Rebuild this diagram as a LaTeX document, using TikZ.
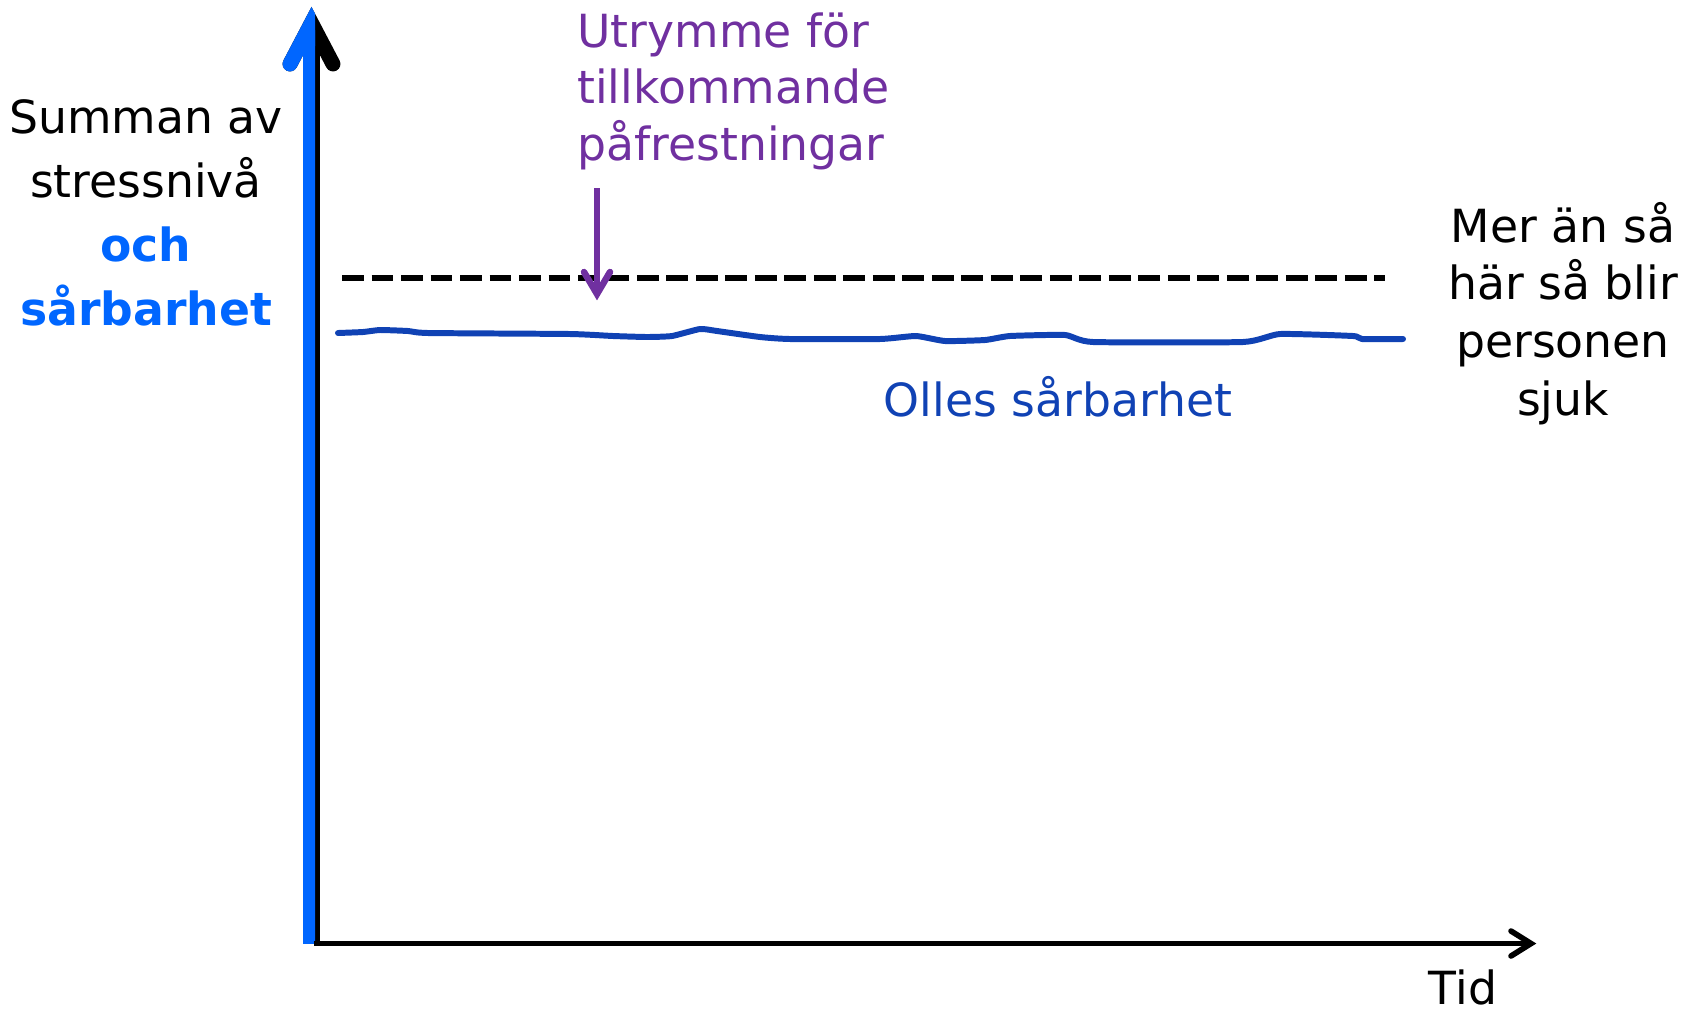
\documentclass[tikz,border=0pt]{standalone}
\usepackage{fontspec}
\setmainfont{DejaVu Sans}

\definecolor{axisblue}{RGB}{0,102,255}
\definecolor{ollesblue}{RGB}{16,66,180}
\definecolor{roompurple}{RGB}{112,48,160}

\begin{document}
\begin{tikzpicture}[x=0.02cm, y=-0.02cm]

    \tikzstyle{label} = [inner sep=0, font=\fontsize{26}{32}\selectfont]
    \tikzstyle{axis} = [line width=9.7pt]
    \tikzstyle{barb} = [line width=8.5pt, line cap=round, line join=miter]
    \tikzstyle{timeaxis} = [line width=2.9pt]
    \tikzstyle{limit} = [line width=3.8pt, dash pattern=on 12.35pt off 4.44pt]
    \tikzstyle{curve} = [ollesblue, line width=3.4pt, line join=round, line cap=round]
    \tikzstyle{room} = [roompurple, line width=3.7pt]

    \useasboundingbox (0,0) rectangle (1694,1012);

    \coordinate (origin) at (311.5,943.5);
    \coordinate (top) at (311.5,30);
    \coordinate (tip) at (1531,943.5);

    % vertical axis, black with a blue left half
    \draw[axis] (origin) -- (top);
    \draw[barb] (290,64) -- (311.5,23) -- (333,64);
    \begin{scope}
        \clip (0,0) rectangle (315,1012);
        \draw[axis, axisblue] (origin) -- (top);
        \draw[barb, axisblue] (290,64) -- (311.5,23) -- (333,64);
    \end{scope}

    \draw[timeaxis] ([xshift=1.5]origin) -- (tip);
    \draw[timeaxis, line width=3.2pt, line cap=round] (1511,931) -- (tip) -- (1511,956);

    \draw[limit] (342,278) -- (1385,278);

    \draw[curve] plot[smooth, tension=0.3] coordinates {(338,333) (363,332) (380,330)
        (408,331) (428,333) (570,334) (613,336) (647,337) (672,336) (700,329) (717,331)
        (760,337) (790,339) (880,339) (916,336) (945,341) (985,340) (1010,336) (1065,335)
        (1093,342) (1243,342) (1280,334) (1353,336) (1362,339) (1403,339)};

    % multi-line nodes sit on the baseline of their last line
    \node[label, anchor=base, align=center, font=\fontsize{26}{36.4}\selectfont] (yaxislabel) at (146,325)
        {Summan av\\stressnivå\\\textcolor{axisblue}{\textbf{och}}\\\textcolor{axisblue}{\textbf{sårbarhet}}};

    \node[label, anchor=base west, align=left, roompurple] (roomtext) at (577,160)
        {Utrymme för\\tillkommande\\påfrestningar};

    \coordinate (roomstart) at (597,188);
    \coordinate (roomend) at (597,294);
    \draw[room] (roomstart) -- (roomend);
    \draw[room, line cap=round, line join=miter] (584,272) -- (roomend) -- (610,272);

    \node[label, anchor=base, align=center, font=\fontsize{26}{32.8}\selectfont] (sicklabel) at (1563,415)
        {Mer än så\\här så blir\\personen\\sjuk};

    \node[label, anchor=base, ollesblue] (olles) at (1058,416) {Olles sårbarhet};

    \node[label, anchor=base] (time) at (1463,1004) {Tid};
\end{tikzpicture}
\end{document}
